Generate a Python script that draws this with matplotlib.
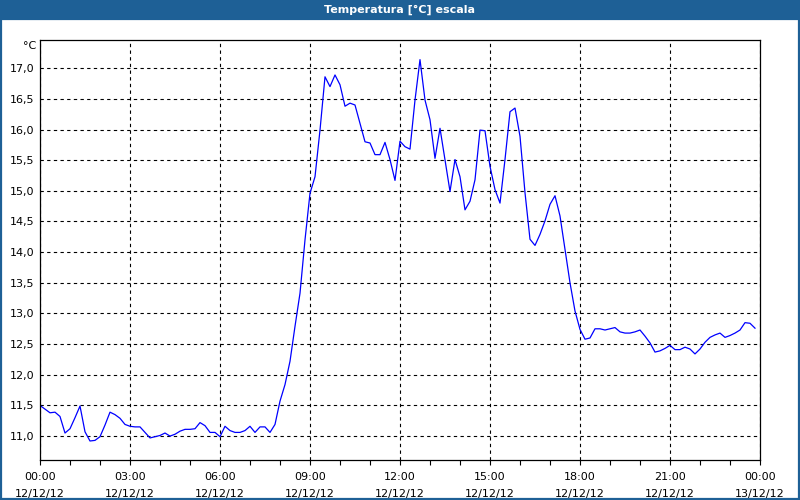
import matplotlib
matplotlib.use("Agg")
from matplotlib import pyplot as plt
import matplotlib.dates as mdates
from matplotlib.patches import Rectangle
from matplotlib.ticker import MultipleLocator, FuncFormatter
import pandas as pd

# readings every 10 minutes, 12/12/12 00:00 .. 23:50
temps = [
    11.50, 11.44, 11.38, 11.39, 11.32, 11.05, 11.12, 11.30, 11.49, 11.07, 10.92, 10.93,
    10.99, 11.18, 11.39, 11.35, 11.29, 11.19, 11.16, 11.15, 11.15, 11.06, 10.97, 10.99,
    11.01, 11.05, 11.00, 11.03, 11.08, 11.11, 11.11, 11.12, 11.22, 11.17, 11.06, 11.06,
    10.99, 11.16, 11.09, 11.06, 11.06, 11.09, 11.16, 11.06, 11.15, 11.15, 11.06, 11.19,
    11.57, 11.84, 12.22, 12.79, 13.33, 14.20, 14.96, 15.23, 15.99, 16.86, 16.70, 16.89,
    16.73, 16.38, 16.43, 16.40, 16.10, 15.80, 15.78, 15.59, 15.59, 15.79, 15.51, 15.17,
    15.81, 15.72, 15.68, 16.48, 17.14, 16.48, 16.16, 15.53, 16.02, 15.51, 14.99, 15.51,
    15.23, 14.69, 14.83, 15.18, 15.99, 15.98, 15.40, 15.02, 14.80, 15.51, 16.29, 16.35,
    15.89, 14.97, 14.21, 14.11, 14.29, 14.51, 14.78, 14.92, 14.59, 14.04, 13.50, 13.04,
    12.74, 12.58, 12.60, 12.75, 12.75, 12.73, 12.75, 12.77, 12.70, 12.68, 12.68, 12.70,
    12.73, 12.63, 12.52, 12.37, 12.39, 12.43, 12.48, 12.41, 12.41, 12.45, 12.42, 12.34,
    12.42, 12.53, 12.61, 12.65, 12.68, 12.61, 12.64, 12.68, 12.73, 12.85, 12.84, 12.76,
]
times = pd.date_range("2012-12-12 00:00", periods=len(temps), freq="10min")
title = "Temperatura [°C] escala"
unit = "°C"

bar_color = "#1e6096"

fig = plt.figure(figsize=(8, 5), dpi=100)
fig.patch.set_facecolor("white")

# title bar + window border
fig.patches.append(Rectangle((0, 0.96), 1, 0.04, transform=fig.transFigure,
                             facecolor=bar_color, edgecolor="none", zorder=0))
fig.patches.append(Rectangle((0.0012, 0.002), 0.9976, 0.96, transform=fig.transFigure,
                             facecolor="none", edgecolor=bar_color, linewidth=1.6, zorder=0))
fig.text(0.5, 0.98, title, color="white", fontsize=8, fontweight="bold",
         ha="center", va="center")

ax = fig.add_axes([0.05, 0.08, 0.9, 0.84])
ax.plot(times, temps, color="#0000ff", linewidth=0.9)

ax.set_xlim(pd.Timestamp("2012-12-12 00:00"), pd.Timestamp("2012-12-13 00:00"))
ax.set_ylim(10.61, 17.46)

ax.xaxis.set_major_locator(mdates.HourLocator(byhour=range(0, 24, 3)))
ax.xaxis.set_minor_locator(mdates.HourLocator())
ax.xaxis.set_major_formatter(mdates.DateFormatter("%H:%M\n%d/%m/%y"))
ax.yaxis.set_major_locator(MultipleLocator(0.5))
ax.yaxis.set_major_formatter(FuncFormatter(lambda v, p: f"{v:.1f}".replace(".", ",")))

ax.tick_params(axis="x", which="both", direction="out", length=3.5, width=0.8,
               labelsize=8, pad=5)
ax.tick_params(axis="y", length=0, labelsize=8, pad=4)
fig.canvas.draw()
for lab in ax.get_xticklabels():
    lab.set_linespacing(1.9)

ax.grid(True, which="major", color="black", linestyle=(0, (3, 3)), linewidth=0.8)
for s in ax.spines.values():
    s.set_color("black")
    s.set_linewidth(0.9)

fig.text(36 / 800, 1 - 46 / 500, unit, fontsize=8, ha="right", va="center")

plt.savefig("out.png", dpi=100)
